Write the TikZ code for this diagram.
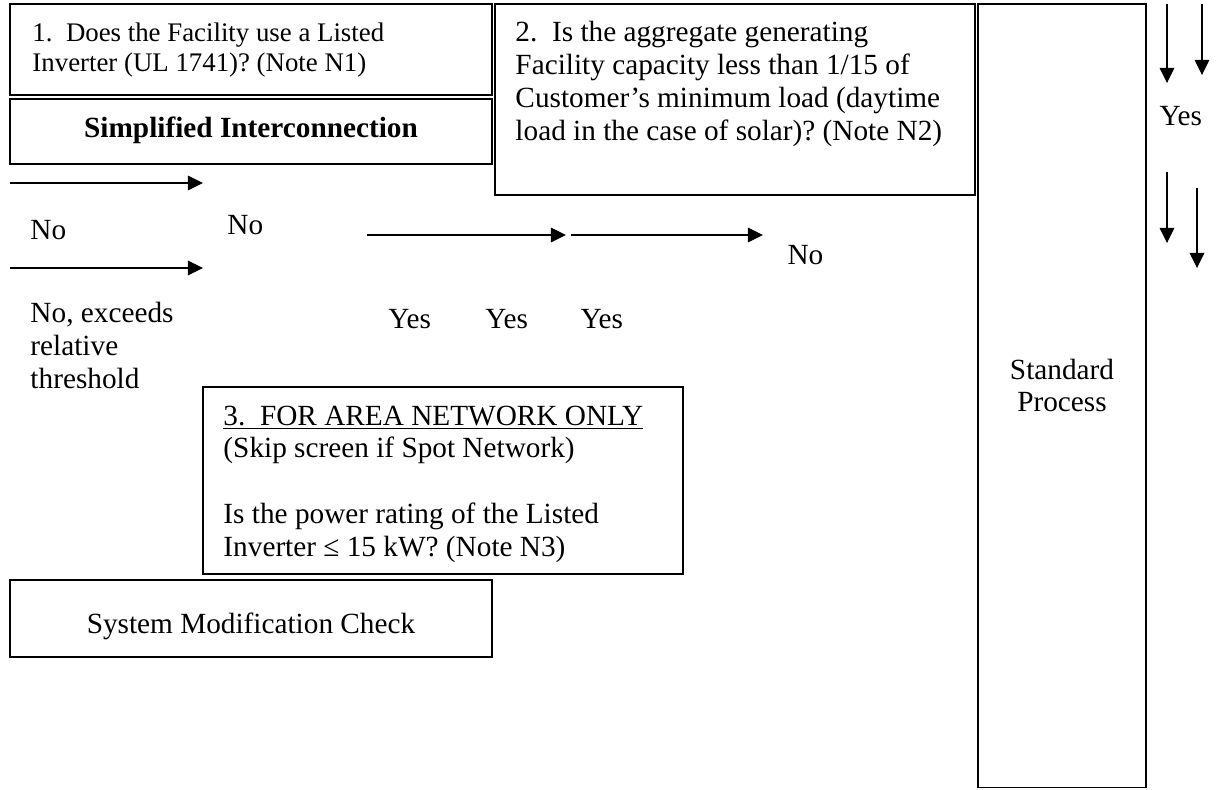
\documentclass[tikz,border=0pt]{standalone}
\usepackage{fontspec}
\setmainfont{Liberation Serif}
\frenchspacing
\usetikzlibrary{arrows.meta,fit}
\tikzset{
  box/.style={rectangle,draw,line width=0.8pt,inner sep=0pt},
  txt/.style={inner sep=0pt,font=\fontsize{12}{13.5}\selectfont},
  flow/.style={line width=0.55pt,-{Triangle[length=6.2pt,width=6pt]}}
}
\begin{document}
\begin{tikzpicture}[x=0.41pt,y=-0.41pt]
\useasboundingbox (0,0) rectangle (1221,790);
% boxes
\node[box,fit={(10,4) (492,95)}] (inverterbox) {};
\node[box,fit={(10,99) (492,164)}] (simplebox) {};
\node[box,fit={(495,4) (975,195)}] (capacitybox) {};
\node[box,fit={(978,4) (1146,787.5)}] (standardbox) {};
\node[box,fit={(203,387) (683,574)}] (areabox) {};
\node[box,fit={(10,580) (492,657)}] (modbox) {};
% box texts
\node[txt,anchor=base west,text width=200pt,align=flush left,font=\fontsize{11}{12}\selectfont] (inverterq) at (32,42) {1.\ \ Does the Facility use a Listed\\Inverter (UL 1741)? (Note N1)};
\node[txt,anchor=base,font=\fontsize{12}{13.5}\selectfont\bfseries] (simplet) at (251,138) {Simplified Interconnection};
\node[txt,anchor=base west,text width=190pt,align=flush left] (capacityq) at (515,42) {2.\ \ Is the aggregate generating\\Facility capacity less than 1/15 of\\Customer’s minimum load (daytime\\load in the case of solar)? (Note N2)};
\node[txt,anchor=base west,text width=190pt,align=flush left] (areaq) at (223,425) {\underline{3.\ \ FOR AREA NETWORK ONLY}\\(Skip screen if Spot Network)\\[13.5pt]Is the power rating of the Listed\\Inverter ≤ 15 kW? (Note N3)};
\node[txt,anchor=base] (modt) at (251,633) {System Modification Check};
\node[txt,anchor=base,text width=60pt,align=center] (standardt) at (1062,379) {Standard\\Process};
% labels
\node[txt,anchor=base west] (no1) at (30,240) {No};
\node[txt,anchor=base west] (no2) at (227,235) {No};
\node[txt,anchor=base west] (no3) at (787,265) {No};
\node[txt,anchor=base west,text width=60pt,align=flush left] (noexceeds) at (30,323) {No, exceeds\\relative\\threshold};
\node[txt,anchor=base west] (yes1) at (388,328) {Yes};
\node[txt,anchor=base west] (yes2) at (485,328) {Yes};
\node[txt,anchor=base west] (yes3) at (580,328) {Yes};
\node[txt,anchor=base west] (yes4) at (1159,126) {Yes};
% arrows
\coordinate (a1s) at (10,183);   \coordinate (a1e) at (203,183);
\coordinate (a2s) at (10,268);   \coordinate (a2e) at (203,268);
\coordinate (a3s) at (367,235);  \coordinate (a3e) at (566,235);
\coordinate (a4s) at (571,235);  \coordinate (a4e) at (763,235);
\coordinate (d1s) at (1167,4);   \coordinate (d1e) at (1167,83);
\coordinate (d2s) at (1202,4);   \coordinate (d2e) at (1202,75);
\coordinate (d3s) at (1167,172); \coordinate (d3e) at (1167,243);
\coordinate (d4s) at (1197,188); \coordinate (d4e) at (1197,268);
\draw[flow] (a1s) -- (a1e);
\draw[flow] (a2s) -- (a2e);
\draw[flow] (a3s) -- (a3e);
\draw[flow] (a4s) -- (a4e);
\draw[flow] (d1s) -- (d1e);
\draw[flow] (d2s) -- (d2e);
\draw[flow] (d3s) -- (d3e);
\draw[flow] (d4s) -- (d4e);
\end{tikzpicture}
\end{document}
